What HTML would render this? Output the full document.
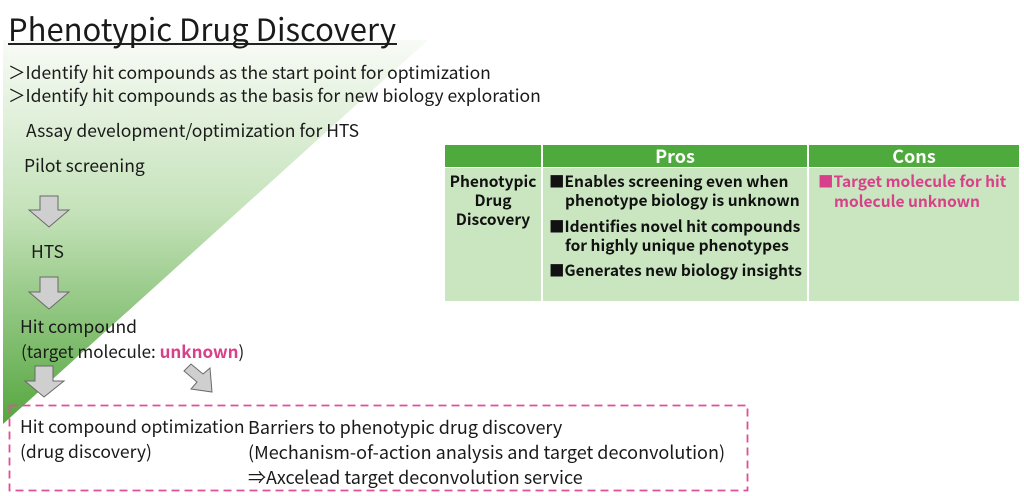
<!DOCTYPE html>
<html><head><meta charset="utf-8"><style>
html,body{margin:0;padding:0;}
body{width:1024px;height:496px;position:relative;overflow:hidden;background:#fff;font-family:"Noto Sans CJK JP","Liberation Sans",sans-serif;color:#1a1a1a;}
.t{position:absolute;white-space:nowrap;line-height:24px;font-size:17.5px;}
.b{font-weight:bold;}
.pink{color:#d9408a;}
.tb{position:absolute;}
.tl{position:absolute;white-space:nowrap;font-size:15.5px;font-weight:bold;line-height:19px;color:#111;}
</style></head><body>
<svg width="1024" height="496" style="position:absolute;left:0;top:0">
<defs>
<linearGradient id="g" x1="0" y1="0" x2="0" y2="1">
<stop offset="0" stop-color="#f8fbf6"/>
<stop offset="0.45" stop-color="#c4e2b9"/>
<stop offset="1" stop-color="#55a63f"/>
</linearGradient>
</defs>
<polygon points="3,40 428,40 3,424" fill="url(#g)"/>
<polygon points="40,196 58,196 58,210 69,210 49,227 29,210 40,210" fill="#cfcfcf" stroke="#6a6a6a" stroke-width="1"/>
<polygon points="40,277 58,277 58,292 69,292 49,309 29,292 40,292" fill="#cfcfcf" stroke="#6a6a6a" stroke-width="1"/>
<polygon points="35,366 53,366 53,381 64,381 44,397 25,381 35,381" fill="#cfcfcf" stroke="#6a6a6a" stroke-width="1"/>
<polygon points="184,371 191,364 203,374 210,368 212,392 191,389 197,382" fill="#cfcfcf" stroke="#6a6a6a" stroke-width="1"/>
<rect x="9.5" y="405.5" width="738" height="85" fill="none" stroke="#e0509a" stroke-width="1.8" stroke-dasharray="8,5"/>
<rect x="8" y="43" width="389" height="2" fill="#222"/>
</svg>

<div class="t" style="left:8px;top:8px;font-size:31px;line-height:40px;">Phenotypic Drug Discovery</div>
<div class="t" style="left:8px;top:61px;">＞Identify hit compounds as the start point for optimization</div>
<div class="t" style="left:8px;top:84px;">＞Identify hit compounds as the basis for new biology exploration</div>
<div class="t" style="left:26px;top:119px;">Assay development/optimization for HTS</div>
<div class="t" style="left:24px;top:154px;">Pilot screening</div>
<div class="t" style="left:31px;top:240px;">HTS</div>
<div class="t" style="left:20px;top:315px;">Hit compound</div>
<div class="t" style="left:21px;top:339px;font-size:17px;">(target molecule: <span class="b pink">unknown</span>)</div>

<div class="t" style="left:20px;top:415px;">Hit compound optimization</div>
<div class="t" style="left:20px;top:440px;">(drug discovery)</div>
<div class="t" style="left:248px;top:415px;font-size:18px;">Barriers to phenotypic drug discovery</div>
<div class="t" style="left:248px;top:440px;font-size:18px;">(Mechanism-of-action analysis and target deconvolution)</div>
<div class="t" style="left:248px;top:465px;font-size:18px;">⇒Axcelead target deconvolution service</div>

<div class="tb" style="left:445px;top:145px;width:96px;height:22px;background:#4eaa3c;"></div>
<div class="tb" style="left:543px;top:145px;width:264px;height:22px;background:#4eaa3c;"></div>
<div class="tb" style="left:809px;top:145px;width:210px;height:22px;background:#4eaa3c;"></div>
<div class="tb" style="left:445px;top:168px;width:96px;height:133px;background:#c9e6c0;"></div>
<div class="tb" style="left:543px;top:168px;width:264px;height:133px;background:#c9e6c0;"></div>
<div class="tb" style="left:809px;top:168px;width:210px;height:133px;background:#c9e6c0;"></div>

<div class="tl" style="left:543px;width:264px;text-align:center;top:145px;color:#fff;font-size:18px;line-height:22px;">Pros</div>
<div class="tl" style="left:809px;width:210px;text-align:center;top:145px;color:#fff;font-size:18px;line-height:22px;">Cons</div>

<div class="tl" style="left:445px;width:96px;text-align:center;top:172px;">Phenotypic</div>
<div class="tl" style="left:445px;width:96px;text-align:center;top:191px;">Drug</div>
<div class="tl" style="left:445px;width:96px;text-align:center;top:210px;">Discovery</div>

<div class="tl" style="left:549px;top:172px;">■Enables screening even when</div>
<div class="tl" style="left:565px;top:191px;">phenotype biology is unknown</div>
<div class="tl" style="left:549px;top:217px;">■Identifies novel hit compounds</div>
<div class="tl" style="left:565px;top:236px;">for highly unique phenotypes</div>
<div class="tl" style="left:549px;top:261px;">■Generates new biology insights</div>

<div class="tl" style="left:818px;top:172px;color:#d9408a;">■Target molecule for hit</div>
<div class="tl" style="left:834px;top:192px;color:#d9408a;">molecule unknown</div>
</body></html>
